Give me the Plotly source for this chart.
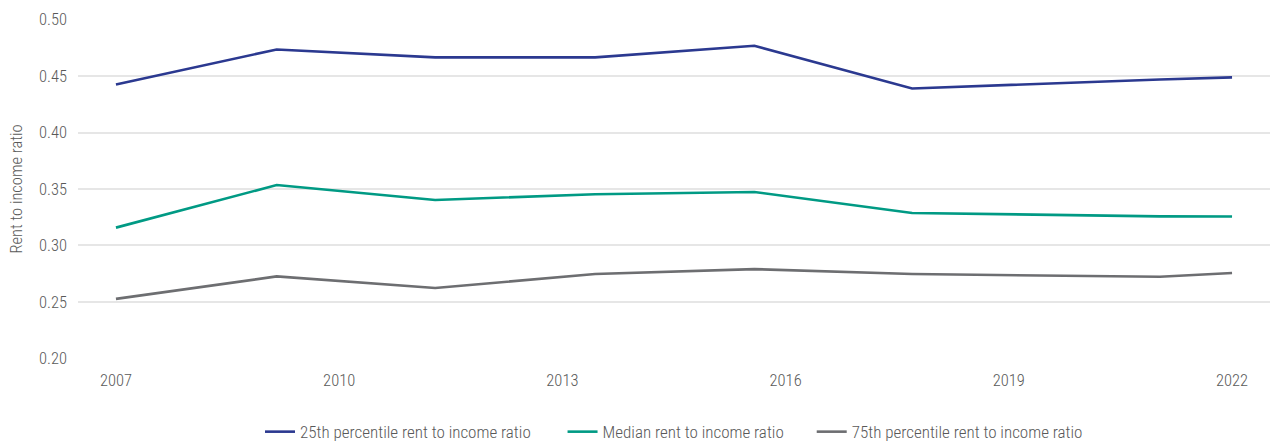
import plotly.graph_objects as go

# Survey periods (decimal years) and rent-to-income ratios by percentile
years = [2007.0, 2009.16, 2011.29, 2013.44, 2015.58, 2017.70, 2021.03, 2022.0]
p25 = [0.4426, 0.4735, 0.4665, 0.4665, 0.4768, 0.4390, 0.4470, 0.4488]
median = [0.3158, 0.3535, 0.3403, 0.3453, 0.3474, 0.3288, 0.3258, 0.3256]
p75 = [0.2527, 0.2726, 0.2624, 0.2747, 0.2791, 0.2747, 0.2723, 0.2756]

series_names = [
    "25th percentile rent to income ratio",
    "Median rent to income ratio",
    "75th percentile rent to income ratio",
]
colors = ["#2b3990", "#009a84", "#6d6e71"]
# trailing non-breaking spaces widen the gap between legend entries
legend_pad = [7, 6, 0]

x_ticks = [2007, 2010, 2013, 2016, 2019, 2022]
y_ticks = [0.20, 0.25, 0.30, 0.35, 0.40, 0.45, 0.50]

font_family = "Roboto Condensed, Liberation Sans Narrow, Roboto, sans-serif"
text_color = "#595959"
fs = 16.5

fig = go.Figure()
for name, vals, col, pad in zip(series_names, [p25, median, p75], colors, legend_pad):
    fig.add_trace(go.Scatter(
        x=years, y=vals, name=name + "\u00a0" * pad, mode="lines",
        line=dict(color=col, width=2.6),
    ))

fig.update_layout(
    width=1270, height=441,
    margin=dict(l=78, r=0, t=19, b=82, autoexpand=False),
    paper_bgcolor="white", plot_bgcolor="white",
    font=dict(family=font_family, size=fs, color=text_color, weight=300),
    showlegend=True,
    legend=dict(
        orientation="h", x=0.5, xanchor="center", y=-0.215, yanchor="middle",
        font=dict(size=17, color=text_color, weight=300),
        tracegroupgap=0,
    ),
    xaxis=dict(
        range=[2006.49, 2022.51],
        tickvals=x_ticks, ticktext=[str(t) for t in x_ticks],
        showgrid=False, zeroline=False, showline=False,
        ticks="", ticklabelstandoff=9,
        tickfont=dict(size=fs, color=text_color, weight=300),
    ),
    yaxis=dict(
        range=[0.1995, 0.5005],
        tickvals=y_ticks, ticktext=[f"{t:.2f}" for t in y_ticks],
        showgrid=True, gridcolor="#e6e6e6", gridwidth=1.5,
        zeroline=False, showline=False,
        ticks="", ticklabelstandoff=10,
        tickfont=dict(size=fs, color=text_color, weight=300),
        title=dict(text="Rent to income ratio", standoff=12,
                   font=dict(size=fs, color=text_color, weight=300)),
    ),
)

fig.write_html("out.html")
